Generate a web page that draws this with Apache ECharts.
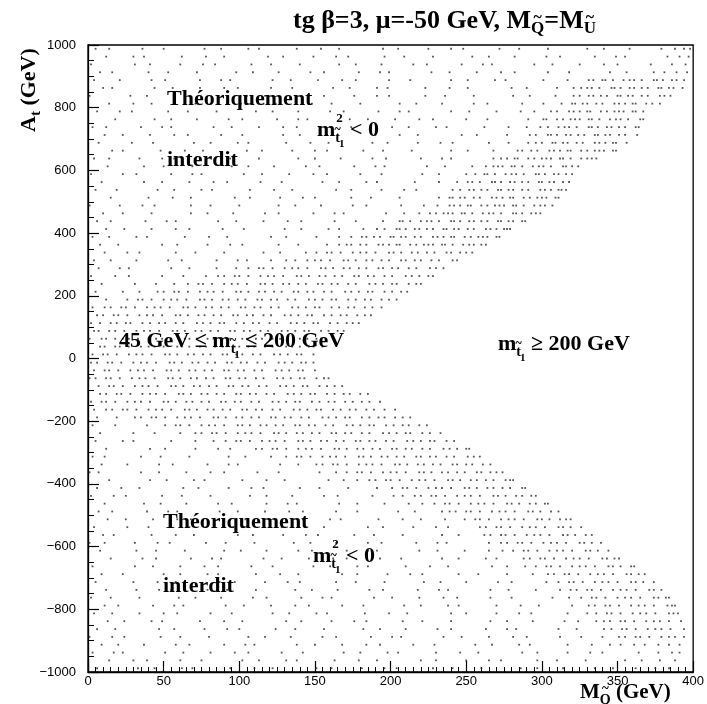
<!DOCTYPE html>
<html><head><meta charset="utf-8">
<script src="https://cdn.jsdelivr.net/npm/echarts@6/dist/echarts.min.js"></script>
<style>html,body{margin:0;padding:0;background:#fff}#c{width:707px;height:704px}</style>
</head><body><div id="c"></div>
<script>
// A_t value of each row of scan points (GeV)
const rowA = [988,963,938,913,888,863,838,813,788,763,738,713,688,663,638,613,588,563,538,513,488,463,438,413,388,363,338,313,288,263,238,213,188,163,138,113,88,63,38,13,
 -13,-38,-63,-88,-113,-138,-163,-188,-213,-238,-263,-288,-313,-338,-363,-388,-413,-438,-463,-488,-513,-538,-563,-588,-613,-638,-663,-688,-713,-738,-763,-788,-813,-838,-863,-888,-913,-938,-963,-988];
// M_Q values of the points on each row (GeV)
const rowM = [
[5,14,36,50,77,88,106,113,138,154,166,195,205,225,240,248,272,285,304,330,341,358,379,388,394,398],
[12,30,37,62,78,90,119,129,149,164,172,196,209,228,254,265,282,303,312,335,349,355,383,391,397],
[2,31,41,61,76,84,108,121,140,166,177,194,215,224,247,261,267,295,307,325,341,350,372,386,395],
[8,16,40,53,72,98,109,126,147,156,179,193,199,227,239,257,273,282,304,318,345,356,374,381,389,396],
[4,21,42,51,74,88,94,122,134,152,168,177,199,213,240,251,269,276,301,317,331,334,340,342,347,354,358,361,366,374,376,380,386,389,394],
[10,16,44,56,74,90,99,121,135,162,173,191,198,223,239,251,280,290,310,321,326,330,333,338,346,348,352,358,361,366,370,377,379,384,387,393],
[1,28,39,57,64,89,105,117,146,156,176,191,199,223,236,255,281,292,309,321,325,331,334,339,343,350,352,357,360,366,370,378,381,385],
[14,30,42,71,81,101,116,124,148,161,180,206,217,234,255,264,287,301,313,320,322,327,330,336,340,348,351,355,360,362,369,373,378],
[6,21,29,53,66,85,111,122,139,160,169,192,206,212,240,252,270,286,295,306,310,318,321,325,330,332,339,343,348,351,354,360,362,367],
[18,44,55,72,93,102,125,139,145,173,185,203,219,228,250,264,291,301,303,310,314,319,322,325,331,333,338,345,349,352,357,365,367],
[3,12,35,49,55,83,95,113,129,138,160,174,201,212,230,237,262,278,290,299,304,311,315,318,323,331,333,337,343,346,351,355,362,364],
[11,23,41,57,66,88,102,129,140,158,165,190,206,218,247,257,277,292,296,304,306,310,316,319,324,328,335,337,342,345,351,355,363],
[7,29,43,70,81,99,106,131,147,159,188,198,218,233,241,265,278,291,296,300,307,309,314,317,323,327,335,338,342,347,349,356],
[16,23,48,64,76,105,115,135,150,158,182,195,214,240,251,268,284,287,293,297,305,308,312,317,319,326,330,335,338,341,347,349],
[4,14,34,49,57,81,94,113,139,150,167,188,197,220,234,240,268,273,277,282,284,291,295,300,303,306,312,314,319,326,330,333,336],
[13,37,50,69,95,106,123,144,153,176,190,196,224,236,254,263,268,271,274,280,282,287,294,298,301,306,314,316,320,324],
[2,23,32,55,69,75,103,115,133,149,158,180,194,221,232,250,256,262,264,269,276,280,283,288,296,298,302,308,311,316,320],
[9,37,49,67,83,92,114,128,155,166,184,191,216,232,244,251,254,259,267,269,273,279,282,287,291,298,300,305,308,314,318],
[5,19,46,57,75,82,107,123,135,164,174,194,209,217,241,246,252,255,260,264,271,273,278,281,287,291,299,302,306,311,313,316],
[15,40,56,68,97,107,127,142,150,174,187,206,232,239,241,246,249,255,259,267,270,274,279,281,288,292,297,300,303,309,311],
[1,21,36,44,68,81,100,126,137,154,175,184,207,222,231,239,242,246,251,253,260,264,269,272,275,281,283,288,295,299,302,307],
[10,23,42,68,79,96,117,126,149,163,169,197,209,219,226,230,235,238,241,247,249,254,261,265,268,273,281,283,287,293,296,299],
[6,15,38,52,58,86,98,116,132,141,163,177,195,206,208,213,220,224,227,232,240,242,246,252,255,260,264,271,273,278,281,287,289],
[12,24,42,58,67,89,103,130,141,159,166,182,191,196,204,206,210,216,219,224,228,235,237,242,245,251,255,263,266,270,275,277,279],
[3,14,32,39,64,80,92,121,131,151,166,174,181,184,189,193,200,202,207,210,216,220,228,231,235,240,242,249,253,258,261,264,270,272],
[8,20,49,59,79,94,102,126,139,158,166,171,174,180,184,192,195,199,204,206,213,217,222,225,228,234,236,241,248,252,255,260,263],
[11,26,34,58,71,90,116,127,144,151,158,161,167,175,180,184,190,199,202,207,214,218,224,229,237,240,246,250,254],
[4,15,32,53,62,85,99,105,121,131,137,145,150,154,160,169,172,177,184,188,194,199,207,210,216,220,227,232,241,244],
[7,21,27,55,67,85,98,106,113,116,122,130,135,139,145,154,157,162,169,173,179,184,192,195,201,205,212,217,226,230,235],
[2,18,27,49,63,78,86,90,97,100,106,114,119,123,129,138,141,146,153,157,163,168,176,179,185,189,196,201,210,214,219,225,228],
[9,31,45,57,66,73,76,82,90,95,99,105,114,117,122,129,133,139,144,152,155,161,165,172,177,186,190,195,201,204,212,217,220],
[5,23,34,46,50,57,60,66,74,79,83,89,98,101,106,113,117,123,128,136,139,145,149,156,161,170,174,179,185,188,196,201,207,211],
[12,26,33,36,42,50,55,59,65,74,77,82,89,93,99,104,112,115,121,125,132,137,146,150,155,161,164,172,177,183,187,194,199,204],
[3,11,15,22,25,31,39,44,48,54,63,66,71,78,82,88,93,101,104,110,114,121,126,135,139,144,150,153,161,166,172,176,183,188,194],
[6,10,17,20,26,34,39,43,49,58,61,66,73,77,83,88,96,99,105,109,116,121,130,134,139,145,148,156,161,167,171,178,183,187],
[2,8,15,19,25,28,36,41,47,51,58,63,72,76,81,87,90,98,103,109,113,120,125,134,138,143,149,152,160,165,171,175,179],
[4,7,14,18,24,32,37,41,47,56,59,64,71,75,81,86,94,97,103,107,114,119,128,132,137,143,146,154,159,165,169],
[1,9,12,18,23,27,33,40,45,49,55,64,67,72,79,83,89,94,102,105,111,115,122,127,136,140,145,151,154,162],
[8,11,18,21,27,35,40,44,50,59,62,67,74,78,84,89,97,100,106,110,117,122,131,135,140,146,149,155],
[3,10,13,19,27,32,36,42,51,54,59,66,70,76,81,89,92,98,102,109,114,123,127,132,138,141,149],
[2,6,13,16,22,30,35,39,45,54,57,62,69,73,79,84,92,95,101,105,112,117,126,130,135,141,144,149],
[4,11,14,20,28,33,37,43,52,55,60,67,71,77,82,90,93,99,103,110,115,124,128,133,139,142,150],
[1,5,12,15,21,29,34,38,44,53,56,61,68,72,78,83,91,94,100,104,111,116,125,129,134,140,143,151,156,159],
[7,14,17,23,31,36,40,46,55,58,63,70,74,80,85,93,96,102,106,113,118,127,131,136,142,145,153,158,163,168],
[8,12,19,22,28,36,41,45,51,60,63,68,75,79,85,90,98,101,107,111,118,123,132,136,141,147,150,158,163,169,173,180,185],
[2,9,12,18,26,31,35,41,50,53,58,65,69,75,80,88,91,97,101,108,113,122,126,131,137,140,148,153,159,163,170,175,181,186,193],
[4,12,16,23,26,32,40,45,49,55,64,67,72,79,83,89,94,102,105,111,115,122,127,136,140,145,151,154,162,167,173,177,184,189,196,203],
[6,19,31,35,42,45,51,59,64,68,74,83,86,91,98,102,108,113,121,124,130,134,141,146,155,159,164,170,173,181,186,192,196,203,208,213],
[3,18,39,51,58,61,67,75,80,84,90,99,102,107,114,118,124,129,137,140,146,150,157,162,171,175,180,186,189,197,202,208,212,219,224],
[8,30,44,61,71,75,82,85,91,99,104,108,114,123,126,131,138,142,148,153,161,164,170,174,181,186,195,199,204,210,213,221,226,233],
[5,23,30,55,71,83,91,98,101,107,115,120,124,130,139,142,147,154,158,164,169,177,180,186,190,197,202,211,215,220,226,229,237,242],
[12,41,51,71,86,94,111,115,122,125,131,139,144,148,154,163,166,171,178,182,188,193,201,204,210,214,221,226,235,239,244,250,252],
[3,11,35,48,67,93,104,121,131,138,141,147,155,160,164,170,179,182,187,194,198,204,209,217,220,226,230,237,242,251,255,259],
[9,26,47,56,79,93,99,127,139,151,155,162,165,171,179,184,188,194,203,206,211,218,222,228,233,241,244,250,254,261,266],
[1,7,35,47,65,81,90,112,126,153,164,171,178,181,187,195,200,204,210,219,222,227,234,238,244,249,257,260,266,270,274],
[14,41,52,70,77,102,118,130,159,169,178,186,190,197,200,206,214,219,223,229,238,241,246,253,257,263,268,276,279,281],
[6,22,34,63,73,93,108,116,140,153,172,191,201,208,211,217,225,230,234,240,249,252,257,264,268,274,279,287,289],
[2,17,25,49,62,81,107,118,135,156,165,188,202,208,216,220,227,230,236,244,249,253,259,268,271,276,283,287,293,296],
[11,37,48,65,86,95,118,132,138,166,178,196,212,221,229,236,239,245,253,258,262,268,277,280,285,292,296,302,304],
[7,16,39,53,59,87,99,117,133,142,164,178,205,216,234,239,243,250,253,259,267,272,276,282,291,294,299,306,311],
[13,25,43,59,68,90,104,131,142,160,167,192,208,220,236,249,256,259,265,273,278,282,288,297,300,305,312,316,319],
[4,26,40,67,78,96,103,128,144,156,185,195,215,230,238,259,263,270,273,279,287,292,296,302,311,314,319,326],
[10,17,42,58,70,99,109,129,144,152,176,189,208,234,245,262,266,273,276,282,290,295,299,305,314,317,322,329,333],
[1,11,31,46,54,78,91,110,136,147,164,185,194,217,231,237,265,273,277,284,287,293,301,306,310,316,325,328,333,339],
[8,32,45,64,90,101,118,139,148,171,185,191,219,231,249,265,274,281,288,291,297,305,310,314,320,329,332,337,344],
[15,36,45,68,82,88,116,128,146,162,171,193,207,234,245,263,270,288,292,299,302,308,316,321,325,331,340,343,348,351],
[3,31,43,61,77,86,108,122,149,160,178,185,210,226,238,267,277,289,296,303,306,312,320,325,329,335,344,347,352,359,361],
[9,23,50,61,79,86,111,127,139,168,178,198,213,221,245,258,277,294,304,308,315,318,324,332,337,341,347,356,359,364,368],
[5,30,46,58,87,97,117,132,140,164,177,196,222,233,250,271,280,303,311,318,321,327,335,340,344,350,359,362,367,374],
[12,32,47,55,79,92,111,137,148,165,186,195,218,232,238,266,278,296,312,319,323,330,333,339,347,352,356,362,371,374,379],
[2,15,34,60,71,88,109,118,141,155,161,189,201,219,235,244,266,280,307,318,326,333,336,342,350,355,359,365,374,377,382,384],
[11,20,43,57,63,91,103,121,137,146,168,182,209,220,238,245,270,286,298,320,331,335,342,345,351,359,364,368,374,383,386,388],
[4,16,34,50,59,81,95,122,133,151,158,183,199,211,240,250,270,285,293,317,330,336,343,346,352,360,365,369,375,384,387,390],
[13,24,42,49,74,90,102,131,141,161,176,184,208,221,240,266,277,294,315,324,336,341,345,352,355,361,369,374,378,384,392],
[6,18,47,57,77,92,100,124,137,156,182,193,210,231,240,263,277,283,311,323,341,346,353,356,362,370,375,379,385,394],
[1,16,24,48,61,80,106,117,134,155,164,187,201,207,235,247,265,281,290,312,326,340,351,355,362,365,371,379,384,388,394],
[9,20,37,58,67,90,104,110,138,150,168,184,193,215,229,256,267,285,292,317,333,345,352,361,368,377,384,391],
[3,17,23,51,63,81,97,106,128,142,169,180,198,205,230,246,258,287,297,317,332,340,364,377,386,391],
[14,30,39,61,75,102,113,131,138,163,179,191,220,230,250,265,273,297,310,329,355,366,378,388],
[6,33,44,62,69,94,110,122,151,161,181,196,204,228,241,260,286,297,314,335,347,362,375,384]
];
const xMin = 0, xMax = 400, xStep = 50;
const yMin = -1000, yMax = 1000, yStep = 200;

const points = [];
rowA.forEach((a, i) => rowM[i].forEach(m => points.push([m, a])));

const SERIF = '"Liberation Serif","Times New Roman",serif';
const ctx = document.createElement('canvas').getContext('2d');
function tw(s, size) { ctx.font = 'bold ' + size + 'px ' + SERIF; return ctx.measureText(s).width; }
function txt(x, y, t, size) {
  return { type: 'text', x: x, y: y, z: 100,
    style: { text: t, font: 'bold ' + size + 'px ' + SERIF, fill: '#000', align: 'left', verticalAlign: 'middle' } };
}
// lay out a run of text pieces (with sub/superscripts, tildes) from a start point
function seq(x0, y0, parts, rot) {
  let x = 0, lastX = 0, lastW = 0;
  const children = [];
  parts.forEach(p => {
    const s = p.s || 22;
    const w = tw(p.t, s);
    if (p.over) {
      children.push(txt(lastX + lastW / 2 - w / 2 + (p.dx || 0), p.dy || 0, p.t, s));
      return;
    }
    const px = x + (p.dx || 0);
    children.push(txt(px, p.dy || 0, p.t, s));
    lastX = px; lastW = w;
    if (!p.noadv) x = px + w;
  });
  return { type: 'group', x: x0, y: y0, rotation: rot || 0, z: 100, children: children };
}
const mSq = [
  { t: 'm' }, { t: '2', s: 13, dy: -11, dx: 1, noadv: true },
  { t: 't', s: 14, dy: 8 }, { t: '~', s: 12, dy: 0, over: true },
  { t: '1', s: 11, dy: 14, dx: -1 }, { t: ' < 0' }
];
const graphics = [
  seq(293, 21, [{ t: 'tg β=3, μ=-50 GeV, M', s: 26 }, { t: 'Q', s: 17, dy: 8 }, { t: '~', s: 16, dy: -3, over: true },
    { t: '=M', s: 26 }, { t: 'U', s: 17, dy: 8 }, { t: '~', s: 16, dy: -3, over: true }]),
  seq(29, 132, [{ t: 'A', s: 22 }, { t: 't', s: 15, dy: 7 }, { t: ' (GeV)', s: 22 }], Math.PI / 2),
  seq(580, 693, [{ t: 'M', s: 21 }, { t: 'Q', s: 14, dy: 7 }, { t: '~', s: 13, dy: -4, over: true }, { t: ' (GeV)', s: 21 }]),
  seq(167, 99, [{ t: 'Théoriquement' }]),
  seq(317, 130, mSq),
  seq(167, 160, [{ t: 'interdit' }]),
  seq(119, 341, [{ t: '45 GeV ≤ m' }, { t: 't', s: 14, dy: 8 }, { t: '~', s: 12, dy: 0, over: true },
    { t: '1', s: 11, dy: 14, dx: -1 }, { t: ' ≤ 200 GeV' }]),
  seq(498, 344, [{ t: 'm' }, { t: 't', s: 14, dy: 8 }, { t: '~', s: 12, dy: 0, over: true },
    { t: '1', s: 11, dy: 14, dx: -1 }, { t: ' ≥ 200 GeV' }]),
  seq(163, 522, [{ t: 'Théoriquement' }]),
  seq(313, 556, mSq),
  seq(163, 586, [{ t: 'interdit' }])
];

const chart = echarts.init(document.getElementById('c'), null, { renderer: 'canvas' });
const axisCommon = {
  type: 'value',
  axisLine: { show: true, onZero: false, lineStyle: { color: '#000', width: 1.3 } },
  axisTick: { show: true, inside: true, length: 11, lineStyle: { color: '#000', width: 1.2 } },
  splitLine: { show: false },
  axisLabel: { color: '#000', fontFamily: '"Liberation Sans",Arial,sans-serif', fontSize: 13,
    formatter: v => String(v).replace('-', '\u2212') }
};
chart.setOption({
  animation: false,
  backgroundColor: '#fff',
  grid: { left: 88, right: 10, top: 45, bottom: 32, show: true, borderColor: '#000', borderWidth: 1.3 },
  xAxis: Object.assign({}, axisCommon, { min: xMin, max: xMax, interval: xStep,
    minorTick: { show: true, splitNumber: 10, length: 5, lineStyle: { color: '#000', width: 1 } },
    axisLabel: Object.assign({}, axisCommon.axisLabel, { margin: 3 }) }),
  yAxis: Object.assign({}, axisCommon, { min: yMin, max: yMax, interval: yStep,
    minorTick: { show: true, splitNumber: 4, length: 6, lineStyle: { color: '#000', width: 1 } },
    axisLabel: Object.assign({}, axisCommon.axisLabel, { margin: 12 }) }),
  series: [{ type: 'scatter', data: points, symbol: 'rect', symbolSize: 1.8, silent: true,
    itemStyle: { color: '#2a2a2a' } }],
  graphic: graphics
});
</script>
</body></html>
